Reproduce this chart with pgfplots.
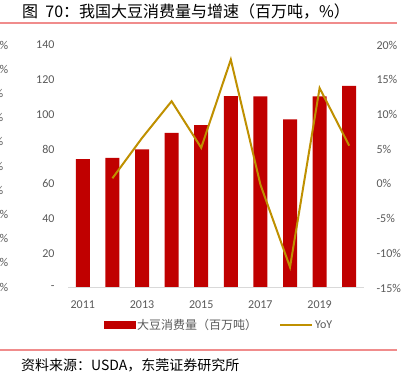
\documentclass[border=0pt]{standalone}
\usepackage{pgfplots}
\pgfplotsset{compat=1.18}
\usepackage{fontspec}
\setmainfont{Carlito}
\newfontfamily\cjk{Noto Sans CJK SC}
\definecolor{barred}{HTML}{C00000}
\definecolor{gold}{HTML}{BF9000}
\definecolor{txtgray}{HTML}{595959}
\definecolor{rulered}{HTML}{F08C8C}
\definecolor{basegray}{HTML}{D9D9D9}
\begin{document}
\begin{tikzpicture}[x=1pt,y=1pt]
\begin{axis}[
  at={(68pt,94pt)}, anchor=south west, scale only axis, width=296pt, height=243pt,
  xmin=-0.5, xmax=9.5, ymin=0, ymax=140,
  xtick={0,2,4,6,8}, xticklabels={2011,2013,2015,2017,2019},
  ytick={0,20,40,60,80,100,120,140}, yticklabels={-,20,40,60,80,100,120,140},
  axis line style={draw=none}, major tick length=0pt, tick style={draw=none},
  ticklabel style={font=\fontsize{12}{14}\selectfont, text=txtgray},
  yticklabel style={xshift=-10pt},
  xticklabel style={yshift=-9pt},
  /pgf/number format/assume math mode=true,
  ybar, bar width=14pt, clip=false,
]
\addplot[fill=barred, draw=none] coordinates {(0,74.3) (1,74.9) (2,79.9) (3,89.3) (4,93.9) (5,110.6) (6,110.4) (7,97.2) (8,110.4) (9,116.5)};
\draw[basegray, line width=1pt] (axis cs:-0.5,0) -- (axis cs:9.5,0);
\end{axis}
\begin{axis}[
  at={(68pt,94pt)}, anchor=south west, scale only axis, width=296pt, height=243pt,
  xmin=-0.5, xmax=9.5, ymin=-15, ymax=20,
  hide x axis, axis y line*=right,
  ytick={-15,-10,-5,0,5,10,15,20}, yticklabels={-15\%,-10\%,-5\%,0\%,5\%,10\%,15\%,20\%},
  axis line style={draw=none}, major tick length=0pt, tick style={draw=none},
  ticklabel style={font=\fontsize{12}{14}\selectfont, text=txtgray},
  yticklabel style={xshift=9pt},
  /pgf/number format/assume math mode=true,
  clip=false,
  legend columns=2,
  legend style={at={(0.51,-0.152)}, anchor=center, draw=none, fill=none,
    font=\fontsize{12}{14}\selectfont, text=txtgray,
    /tikz/every even column/.append style={column sep=20pt},
    nodes={inner sep=2pt}},
  legend cell align=left,
]
\addlegendimage{legend image code/.code={\fill[barred] (0pt,-3.25pt) rectangle (31pt,3.25pt);}}
\addlegendentry{\cjk 大豆消费量（百万吨）}
\addplot[gold, line width=2pt, legend image code/.code={\draw[gold,line width=2pt] (0pt,0pt) -- (32pt,0pt);}] coordinates {(1,0.8) (2,6.6) (3,11.9) (4,5.2) (5,17.9) (6,-0.1) (7,-12.0) (8,13.8) (9,5.5)};
\addlegendentry{YoY}
\end{axis}
% cut-off labels of a neighbouring chart at the left edge
\foreach \k in {0,1,7,8,9,10} {
  \node[anchor=east, inner sep=0pt, text=txtgray, font=\fontsize{12}{14}\selectfont] at (8.5, 337-24.2*\k) {0\%};
}
\foreach \k in {2,3,4,5,6} {
  \node[anchor=east, inner sep=0pt, text=txtgray, font=\fontsize{12}{14}\selectfont] at (3.5, 337-24.2*\k) {0\%};
}
% title and source
\node[anchor=west, inner sep=0pt, font=\cjk\fontsize{16}{18}\selectfont] at (22,370) {图\hspace{0.45em}70：我国大豆消费量与增速（百万吨，\%）};
\draw[rulered, line width=1.5pt] (0,359) -- (397,359);
\draw[rulered, line width=1.5pt] (0,32) -- (397,32);
\node[anchor=west, inner sep=0pt, font=\cjk\fontsize{14}{16}\selectfont] at (21,17) {资料来源：USDA，东莞证券研究所};
\pgfresetboundingbox
\path[use as bounding box] (0,0) rectangle (406,382);
\end{tikzpicture}
\end{document}
